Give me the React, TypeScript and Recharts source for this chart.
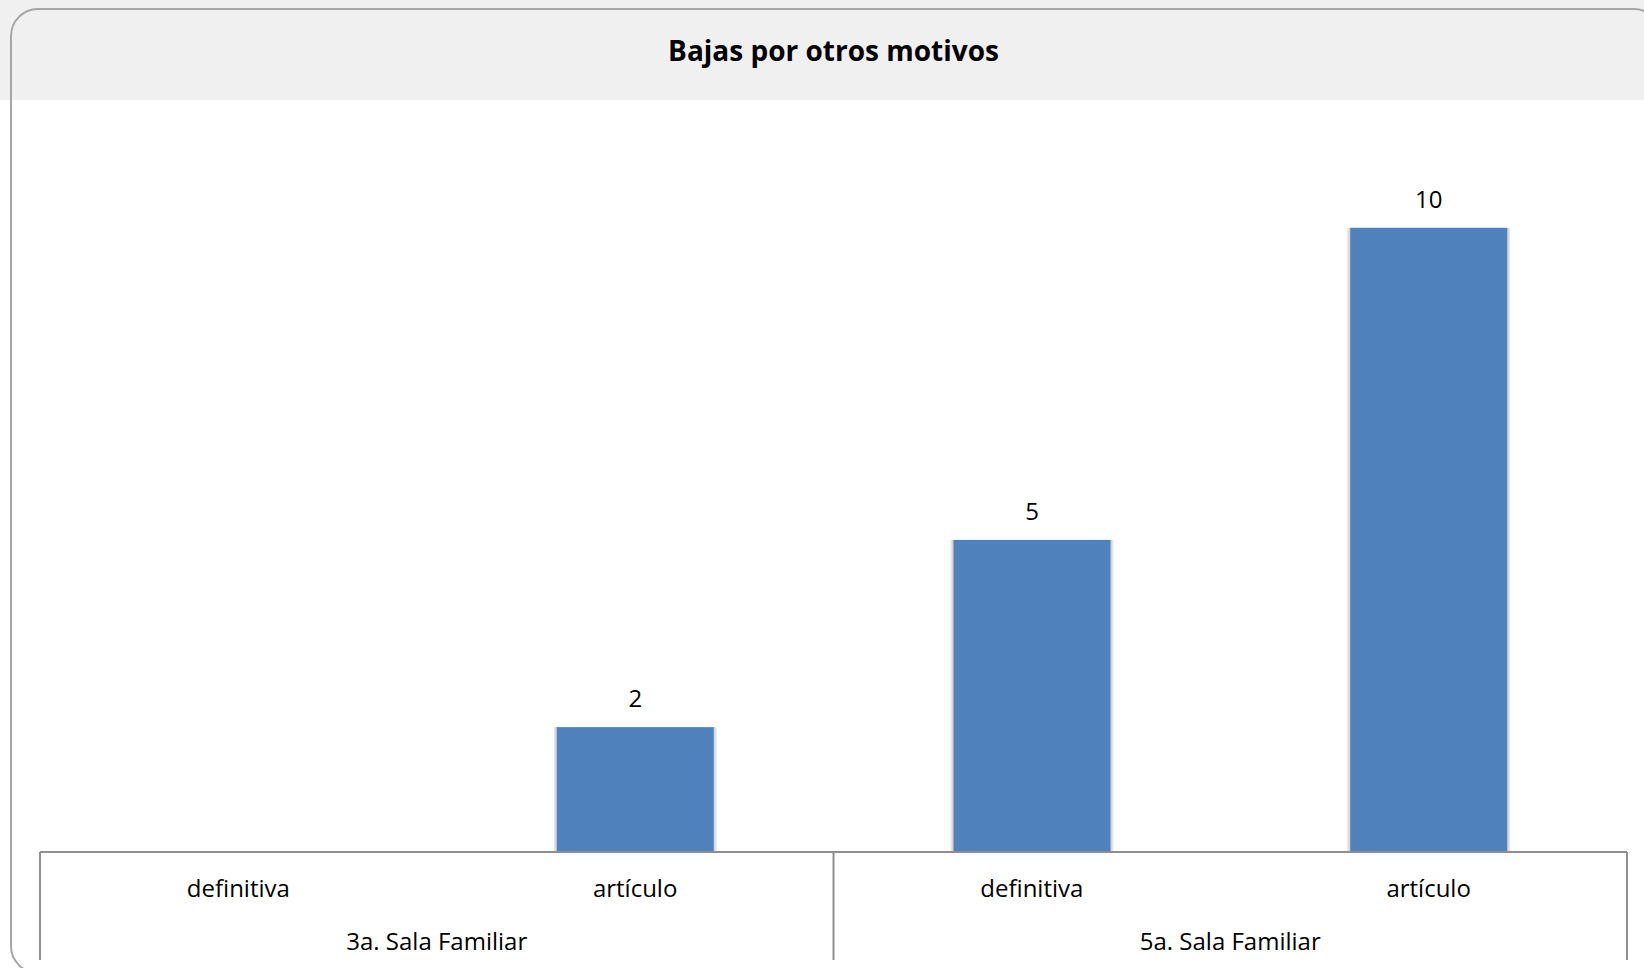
import React from 'react';
import { BarChart, Bar, XAxis, YAxis, LabelList } from 'recharts';

const subCategories = ['definitiva', 'artículo', 'definitiva', 'artículo'];
const groups = ['3a. Sala Familiar', '3a. Sala Familiar', '5a. Sala Familiar', '5a. Sala Familiar'];
const values = [0, 2, 5, 10];
const title = 'Bajas por otros motivos';

const data = subCategories.map((s, i) => ({ sub: s, group: groups[i], value: values[i], key: `${groups[i]}|${s}` }));

const W = 1644;
const H = 968;
const margin = { top: 103, right: 17, bottom: 0, left: 40 };
const AXIS_H = 116;
const FONT = '"Open Sans", "DejaVu Sans", sans-serif';
const AXIS_COLOR = '#8e8e8e';

const halfBand = (W - margin.left - margin.right) / subCategories.length / 2;

const MultiTick = (props: any) => {
  const { x, y, payload } = props;
  const i = payload.index ?? subCategories.indexOf(payload.value);
  const off = typeof payload.offset === 'number' && payload.offset > 0 ? payload.offset : halfBand;
  const isFirst = i === 0 || groups[i] !== groups[i - 1];
  const isLast = i === groups.length - 1;
  let n = 0;
  if (isFirst) {
    for (let k = i; k < groups.length && groups[k] === groups[i]; k++) n++;
  }
  return (
    <g>
      <text x={x} y={y + 45} textAnchor="middle" fontFamily={FONT} fontSize={24} fill="#000">
        {subCategories[i]}
      </text>
      {isFirst && (
        <>
          <text x={x - off + n * off} y={y + 98} textAnchor="middle" fontFamily={FONT} fontSize={24} fill="#000">
            {groups[i]}
          </text>
          <line x1={x - off} x2={x - off} y1={y} y2={y + 108} stroke={AXIS_COLOR} strokeWidth={2} />
        </>
      )}
      {isLast && <line x1={x + off} x2={x + off} y1={y} y2={y + 108} stroke={AXIS_COLOR} strokeWidth={2} />}
    </g>
  );
};

const ShadowBar = (props: any) => {
  const { x, y, width, height } = props;
  if (!height || height <= 0) return null;
  return (
    <g>
      <rect x={x - 3} y={y} width={width + 6} height={height} fill="#e6e6e6" />
      <rect x={x - 1.5} y={y} width={width + 3} height={height} fill="#d4d4d4" />
      <rect x={x} y={y} width={width} height={height} fill="#4f81bd" />
    </g>
  );
};

export default function App() {
  return (
    <div style={{ position: 'absolute', left: 0, top: 0, width: W, height: H, background: '#fff', overflow: 'hidden' }}>
      <div style={{ position: 'absolute', left: 0, top: 0, width: W, height: 100, background: '#f0f0f0' }} />
      <div
        style={{
          position: 'absolute',
          left: 10,
          top: 8,
          width: 1652,
          height: 966,
          boxSizing: 'border-box',
          border: '2px solid #a6a6a6',
          borderRadius: 28,
        }}
      />
      <div
        style={{
          position: 'absolute',
          left: 0,
          top: 30,
          width: 1667,
          textAlign: 'center',
          fontFamily: FONT,
          fontWeight: 700,
          fontSize: 28,
          lineHeight: '40px',
          color: '#000',
        }}
      >
        {title}
      </div>
      <div style={{ position: 'absolute', left: 0, top: 0 }}>
        <BarChart width={W} height={H} data={data} margin={margin} barSize={157}>
          <YAxis hide domain={[0, 12]} />
          <XAxis
            dataKey="key"
            height={AXIS_H}
            interval={0}
            tickLine={false}
            tickSize={0}
            tickMargin={0}
            axisLine={{ stroke: AXIS_COLOR, strokeWidth: 2 }}
            tick={<MultiTick />}
          />
          <Bar dataKey="value" isAnimationActive={false} shape={<ShadowBar />}>
            <LabelList
              dataKey="value"
              position="top"
              offset={20}
              fontFamily={FONT}
              fontSize={24}
              fill="#000"
              formatter={(v: any) => (v === 0 ? '' : v)}
            />
          </Bar>
        </BarChart>
      </div>
    </div>
  );
}
